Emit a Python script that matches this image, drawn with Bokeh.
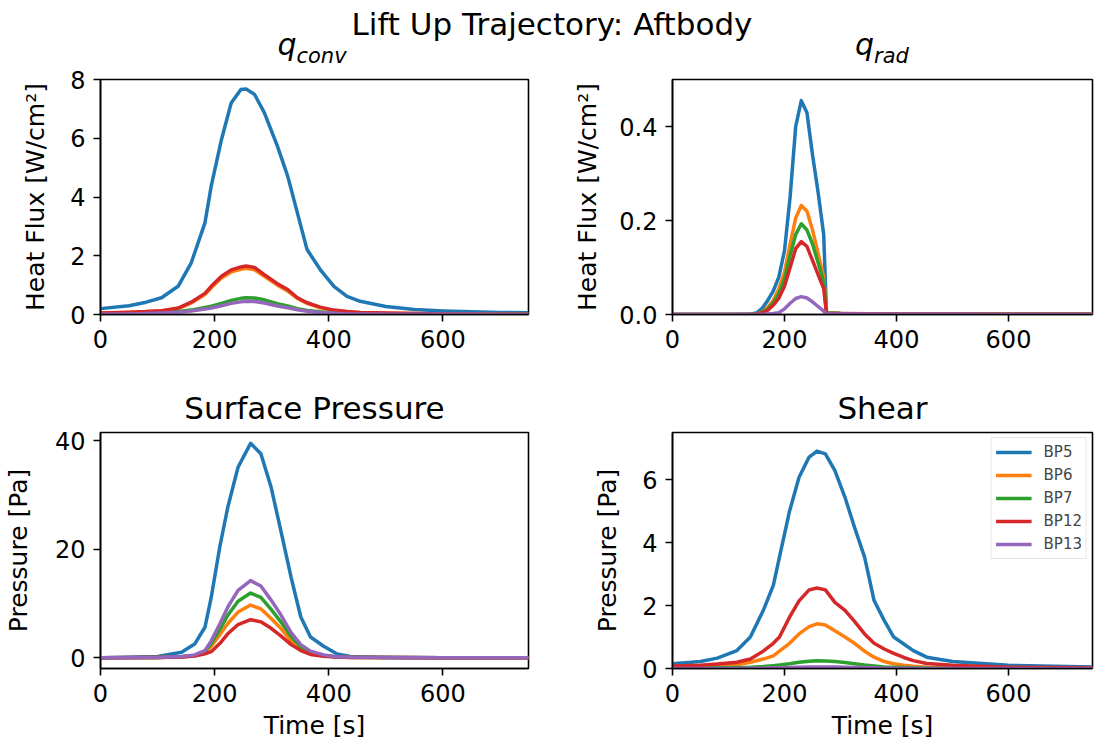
from bokeh.plotting import figure
from bokeh.layouts import gridplot, column
from bokeh.models import Div, FixedTicker, NumeralTickFormatter, Range1d, Title, Legend, LegendItem
from bokeh.embed import file_html
from bokeh.resources import INLINE

# ---------------- data ----------------
series_names = ["BP5", "BP6", "BP7", "BP12", "BP13"]
colors = ["#1f77b4", "#ff7f0e", "#2ca02c", "#d62728", "#9467bd"]

t_conv = [0, 50, 80, 107, 136, 159, 183, 194, 212, 229, 246, 255, 270, 287, 310, 328, 345, 362, 385, 409, 432, 455, 500, 550, 600, 650, 700, 750]
conv_bp5 = [0.2, 0.3, 0.42, 0.57, 0.96, 1.76, 3.12, 4.37, 5.96, 7.2, 7.66, 7.68, 7.49, 6.87, 5.73, 4.71, 3.46, 2.21, 1.53, 0.96, 0.62, 0.45, 0.27, 0.17, 0.12, 0.09, 0.07, 0.06]
conv_bp6 = [0.04, 0.07, 0.09, 0.12, 0.2, 0.39, 0.68, 0.91, 1.24, 1.45, 1.54, 1.57, 1.52, 1.3, 1.0, 0.8, 0.55, 0.38, 0.23, 0.14, 0.09, 0.06, 0.04, 0.03, 0.02, 0.014, 0.01, 0.01]
conv_bp7 = [0.02, 0.03, 0.04, 0.06, 0.1, 0.15, 0.24, 0.28, 0.38, 0.48, 0.55, 0.57, 0.56, 0.5, 0.37, 0.29, 0.2, 0.14, 0.09, 0.05, 0.03, 0.02, 0.015, 0.01, 0.01, 0.005, 0.005, 0.005]
conv_bp12 = [0.05, 0.08, 0.1, 0.13, 0.22, 0.42, 0.72, 0.96, 1.3, 1.52, 1.62, 1.65, 1.6, 1.36, 1.05, 0.85, 0.57, 0.4, 0.25, 0.15, 0.1, 0.07, 0.05, 0.03, 0.02, 0.015, 0.01, 0.01]
conv_bp13 = [0.01, 0.02, 0.03, 0.05, 0.08, 0.12, 0.19, 0.22, 0.3, 0.38, 0.43, 0.45, 0.44, 0.39, 0.29, 0.23, 0.16, 0.11, 0.07, 0.04, 0.02, 0.015, 0.01, 0.01, 0.005, 0.005, 0.0, 0.0]

t_rad = [0, 100, 140, 150, 160, 170, 180, 190, 200, 210, 220, 230, 240, 250, 260, 270, 275, 300, 400, 500, 600, 750]
rad_bp5 = [0, 0, 0.001, 0.003, 0.013, 0.03, 0.05, 0.08, 0.136, 0.25, 0.4, 0.455, 0.43, 0.34, 0.26, 0.17, 0.003, 0.002, 0.001, 0.001, 0.0005, 0.0005]
rad_bp6 = [0, 0, 0, 0.001, 0.005, 0.015, 0.03, 0.055, 0.09, 0.15, 0.205, 0.232, 0.22, 0.18, 0.13, 0.08, 0.003, 0.002, 0.001, 0.001, 0.0005, 0.0005]
rad_bp7 = [0, 0, 0, 0.001, 0.004, 0.012, 0.025, 0.045, 0.075, 0.125, 0.17, 0.193, 0.18, 0.15, 0.11, 0.07, 0.003, 0.002, 0.001, 0.001, 0.0005, 0.0005]
rad_bp12 = [0, 0, 0, 0.001, 0.003, 0.009, 0.02, 0.035, 0.06, 0.1, 0.14, 0.155, 0.145, 0.115, 0.085, 0.055, 0.002, 0.002, 0.001, 0.001, 0.0005, 0.0005]
rad_bp13 = [0, 0, 0, 0, 0, 0.001, 0.002, 0.004, 0.012, 0.024, 0.034, 0.038, 0.035, 0.027, 0.017, 0.007, 0.001, 0.001, 0.0005, 0.0005, 0.0, 0.0]

t_pres = [0, 100, 142, 165, 183, 194, 209, 223, 241, 263, 281, 299, 316, 334, 351, 368, 391, 414, 438, 500, 600, 750]
pres_bp5 = [0, 0.2, 1.0, 2.5, 5.6, 11.1, 20.4, 27.7, 35.1, 39.5, 37.6, 31.4, 23.4, 14.8, 7.5, 3.8, 2.1, 0.7, 0.2, 0.05, 0, 0]
pres_bp6 = [0, 0.03, 0.14, 0.34, 0.88, 2.1, 4.2, 6.3, 8.4, 9.7, 9.0, 7.2, 5.4, 3.1, 1.6, 0.8, 0.34, 0.1, 0.05, 0.02, 0, 0]
pres_bp7 = [0, 0.04, 0.17, 0.42, 1.1, 2.6, 5.2, 7.8, 10.4, 11.9, 11.1, 8.9, 6.6, 3.9, 2.0, 1.0, 0.42, 0.13, 0.07, 0.03, 0, 0]
pres_bp12 = [0, 0.02, 0.1, 0.3, 0.7, 1.1, 2.6, 4.4, 6.1, 7.0, 6.6, 5.4, 4.0, 2.4, 1.3, 0.6, 0.25, 0.1, 0.05, 0.01, 0, 0]
pres_bp13 = [0, 0.05, 0.2, 0.5, 1.3, 3.1, 6.2, 9.3, 12.4, 14.2, 13.2, 10.6, 7.9, 4.6, 2.4, 1.2, 0.5, 0.15, 0.08, 0.03, 0, 0]

t_shear = [0, 50, 80, 115, 139, 162, 180, 191, 209, 226, 244, 258, 273, 290, 308, 325, 343, 360, 378, 395, 413, 430, 454, 500, 600, 750]
shear_bp5 = [0.15, 0.22, 0.33, 0.57, 1.0, 1.84, 2.64, 3.54, 5.0, 6.08, 6.72, 6.91, 6.82, 6.29, 5.44, 4.49, 3.54, 2.16, 1.53, 1.0, 0.78, 0.57, 0.36, 0.22, 0.1, 0.05]
shear_bp6 = [0.05, 0.06, 0.08, 0.12, 0.2, 0.3, 0.4, 0.55, 0.8, 1.1, 1.33, 1.42, 1.38, 1.2, 1.0, 0.8, 0.55, 0.36, 0.22, 0.15, 0.1, 0.07, 0.04, 0.03, 0.02, 0.01]
shear_bp7 = [0.01, 0.01, 0.02, 0.03, 0.04, 0.06, 0.09, 0.11, 0.15, 0.2, 0.23, 0.25, 0.24, 0.22, 0.19, 0.15, 0.11, 0.08, 0.05, 0.04, 0.03, 0.02, 0.01, 0.01, 0.005, 0.0]
shear_bp12 = [0.08, 0.1, 0.14, 0.2, 0.3, 0.55, 0.8, 1.0, 1.63, 2.15, 2.5, 2.56, 2.5, 2.1, 1.85, 1.5, 1.1, 0.8, 0.62, 0.48, 0.35, 0.25, 0.16, 0.1, 0.04, 0.02]
shear_bp13 = [0, 0, 0, 0.01, 0.01, 0.01, 0.02, 0.02, 0.03, 0.04, 0.05, 0.05, 0.05, 0.05, 0.04, 0.03, 0.03, 0.02, 0.01, 0.01, 0.005, 0.005, 0, 0, 0, 0]

x_ticks = [0, 200, 400, 600]

FONT = "DejaVu Sans"
TICK_FS = "24px"
LABEL_FS = "25px"
TITLE_FS = "31px"


def make_fig(width, height, ylo, yhi, yticks, ylabel, xlabel, borders, ylabel_standoff, yfmt=None):
    left, right, top, bottom = borders
    p = figure(width=width, height=height, x_range=Range1d(0, 750), y_range=Range1d(ylo, yhi),
               output_backend="svg", toolbar_location=None, tools="",
               min_border_left=left, min_border_right=right, min_border_top=top, min_border_bottom=bottom)
    p.grid.visible = False
    p.outline_line_color = "black"
    p.outline_line_width = 1.6
    p.background_fill_color = "white"
    p.border_fill_color = "white"
    for ax in (p.xaxis[0], p.yaxis[0]):
        ax.axis_line_color = "black"
        ax.axis_line_width = 1.6
        ax.major_tick_line_color = "black"
        ax.major_tick_line_width = 1.6
        ax.major_tick_out = 7
        ax.major_tick_in = 0
        ax.minor_tick_line_color = None
        ax.major_label_text_font = FONT
        ax.major_label_text_font_size = TICK_FS
        ax.major_label_text_color = "black"
        ax.major_label_standoff = 8
        ax.axis_label_text_font = FONT
        ax.axis_label_text_font_size = LABEL_FS
        ax.axis_label_text_font_style = "normal"
        ax.axis_label_text_color = "black"
    p.xaxis[0].ticker = FixedTicker(ticks=x_ticks)
    p.yaxis[0].ticker = FixedTicker(ticks=yticks)
    if yfmt:
        p.yaxis[0].formatter = NumeralTickFormatter(format=yfmt)
    p.yaxis[0].axis_label = ylabel
    p.yaxis[0].axis_label_standoff = ylabel_standoff
    if xlabel:
        p.xaxis[0].axis_label = xlabel
        p.xaxis[0].axis_label_standoff = 6
    return p


def add_lines(p, t, ys, legend=False):
    items = []
    for name, col, y in zip(series_names, colors, ys):
        r = p.line(t, y, line_color=col, line_width=3.5, line_join="round")
        items.append(LegendItem(label=name, renderers=[r]))
    if legend:
        lg = Legend(items=items, location="top_right", label_text_font=FONT, label_text_font_size="15px",
                    glyph_width=36, glyph_height=20, label_height=20, spacing=3, padding=4, margin=5,
                    label_standoff=12, border_line_color="#cccccc", border_line_width=1.2,
                    background_fill_alpha=0.85)
        p.add_layout(lg)


HEADER_H = 64
TOP_H = 15 + 235 + 58
BOT_H = 60 + 236 + 79

p1 = make_fig(552, TOP_H, 0, 8, [0, 2, 4, 6, 8], "Heat Flux [W/cm²]", None, (97, 24, 15, 58), 17)
add_lines(p1, t_conv, [conv_bp5, conv_bp6, conv_bp7, conv_bp12, conv_bp13])

p2 = make_fig(552, TOP_H, 0, 0.5, [0.0, 0.2, 0.4], "Heat Flux [W/cm²]", None, (120, 12, 15, 58), 14, "0.0")
add_lines(p2, t_rad, [rad_bp5, rad_bp6, rad_bp7, rad_bp12, rad_bp13])

p3 = make_fig(552, BOT_H, -2, 41.5, [0, 20, 40], "Pressure [Pa]", "Time [s]", (97, 24, 60, 79), 19)
add_lines(p3, t_pres, [pres_bp5, pres_bp6, pres_bp7, pres_bp12, pres_bp13])
p3.title = Title(text="Surface Pressure", text_font=FONT, text_font_size=TITLE_FS,
                 text_font_style="normal", align="center", text_color="black", standoff=13)

p4 = make_fig(552, BOT_H, 0, 7.5, [0, 2, 4, 6], "Pressure [Pa]", "Time [s]", (120, 12, 60, 79), 17)
add_lines(p4, t_shear, [shear_bp5, shear_bp6, shear_bp7, shear_bp12, shear_bp13], legend=True)
p4.title = Title(text="Shear", text_font=FONT, text_font_size=TITLE_FS,
                 text_font_style="normal", align="center", text_color="black", standoff=13)

grid = gridplot([[p1, p2], [p3, p4]], toolbar_location=None)

suptitle = "Lift Up Trajectory: Aftbody"
titles_top = [("q", "conv", 312), ("q", "rad", 882)]

parts = []
parts.append(
    '<div style="position:absolute;left:0;top:9px;width:1104px;text-align:center;'
    'font-size:31px;line-height:31px;white-space:nowrap;">%s</div>' % suptitle)
for base, sub, cx in titles_top:
    parts.append(
        '<div style="position:absolute;left:%dpx;top:30px;width:200px;text-align:center;'
        'line-height:30px;white-space:nowrap;">'
        '<span style="font-style:italic;font-size:30px;">%s</span>'
        '<span style="font-style:italic;font-size:21px;position:relative;top:8px;">%s</span></div>'
        % (cx - 100, base, sub))

header_html = ('<div style="position:relative;width:1104px;height:%dpx;overflow:visible;'
               'font-family:\'DejaVu Sans\';color:black;">' % HEADER_H + "".join(parts) + '</div>')
header = Div(text=header_html, width=1104, height=HEADER_H, margin=(0, 0, 0, 0))

layout = column(header, grid, spacing=0)

with open("out.html", "w") as f:
    f.write(file_html(layout, INLINE, title="Lift Up Trajectory: Aftbody"))
